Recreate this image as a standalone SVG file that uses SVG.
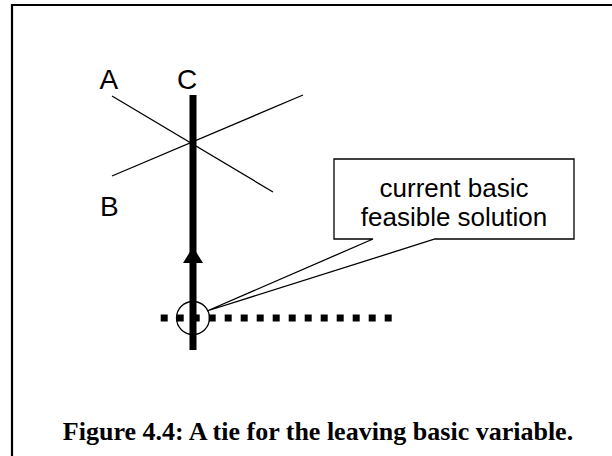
<svg xmlns="http://www.w3.org/2000/svg" width="612" height="456" viewBox="0 0 612 456">
<style>
.lbl{font-family:"Liberation Sans",Arial,sans-serif;font-size:28px;fill:#000}
.co{font-family:"Liberation Sans",Arial,sans-serif;font-size:26px;fill:#000;text-anchor:middle}
.cap{font-family:"Liberation Serif","Times New Roman",serif;font-size:26px;font-weight:bold;fill:#000;text-anchor:middle}
.thin{stroke:#000;stroke-width:1.3;fill:none}
</style>
<rect width="612" height="456" fill="#fff"/>
<path d="M12,456 V5 H612" fill="none" stroke="#000" stroke-width="2.2"/>
<g id="connectors">
<line id="lineA" class="thin" x1="112" y1="96" x2="273" y2="192"/>
<line id="lineB" class="thin" x1="112" y1="176" x2="303" y2="95"/>
<line id="xaxis" x1="160.7" y1="318" x2="391.7" y2="318" stroke="#000" stroke-width="7" stroke-dasharray="7 9"/>
<line id="lineC" x1="193" y1="95" x2="193" y2="350" stroke="#000" stroke-width="7"/>
<polygon id="arrow" points="193,247 183,263 203,263" fill="#000"/>
</g>
<g id="labelA"><text class="lbl" x="99.5" y="88.5">A</text></g>
<g id="labelC"><text class="lbl" x="177" y="88.5">C</text></g>
<g id="labelB"><text class="lbl" x="100" y="216">B</text></g>
<g id="bfs"><circle cx="193" cy="318" r="16.5" class="thin"/></g>
<g id="callout">
<path d="M334,159 H574 V239 H435 L207,311 L373,239 H334 Z" fill="#fff" stroke="#000" stroke-width="1.3"/>
<text class="co" x="454" y="196.5">current basic</text>
<text class="co" x="454" y="225.5">feasible solution</text>
</g>
<g id="caption"><text class="cap" x="318" y="440">Figure 4.4: A tie for the leaving basic variable.</text></g>
</svg>
